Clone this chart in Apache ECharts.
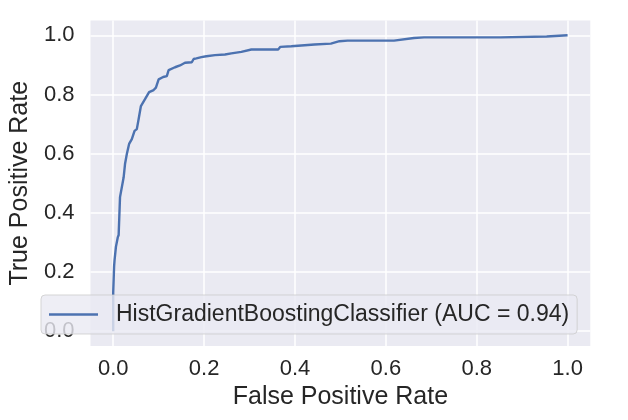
<!DOCTYPE html>
<html>
<head>
<meta charset="utf-8">
<script src="https://cdn.jsdelivr.net/npm/echarts@6/dist/echarts.min.js"></script>
<style>
html,body{margin:0;padding:0;background:#fff;}
#chart{width:628px;height:420px;}
</style>
</head>
<body>
<div id="chart"></div>
<script>
// ROC curve data
const fpr = [0, 0, 0.002, 0.003, 0.006, 0.010, 0.012, 0.015, 0.018, 0.023,
  0.026, 0.030, 0.035, 0.041, 0.047, 0.052, 0.056, 0.059, 0.061, 0.070, 0.079,
  0.089, 0.094, 0.097, 0.100, 0.110, 0.118, 0.122, 0.125, 0.136, 0.147,
  0.158, 0.173, 0.177, 0.183, 0.194, 0.205, 0.224, 0.246, 0.260, 0.282,
  0.304, 0.363, 0.368, 0.392, 0.443, 0.479, 0.498, 0.516, 0.618, 0.622,
  0.662, 0.684, 0.852, 0.856, 0.954, 0.958, 1.0];
const tpr = [0, 0.13, 0.22, 0.24, 0.285, 0.317, 0.325, 0.453, 0.459, 0.52,
  0.565, 0.599, 0.633, 0.649, 0.677, 0.683, 0.717, 0.722, 0.761, 0.784, 0.808,
  0.815, 0.823, 0.825, 0.851, 0.859, 0.862, 0.882, 0.885, 0.892, 0.898,
  0.907, 0.909, 0.920, 0.922, 0.926, 0.929, 0.933, 0.935, 0.939, 0.944,
  0.952, 0.952, 0.961, 0.963, 0.969, 0.972, 0.980, 0.982, 0.982, 0.988,
  0.991, 0.993, 0.993, 0.996, 0.996, 1.0, 1.0];
const xTicks = [0.0, 0.2, 0.4, 0.6, 0.8, 1.0];
const yTicks = [0.0, 0.2, 0.4, 0.6, 0.8, 1.0];
const seriesName = 'HistGradientBoostingClassifier (AUC = 0.94)';
const xTitle = 'False Positive Rate';
const yTitle = 'True Positive Rate';

const FONT = '"Liberation Sans", Arial, Helvetica, sans-serif';
const TXT = '#262626';
const chart = echarts.init(document.getElementById('chart'), null, {renderer: 'canvas'});
const points = fpr.map((x, i) => [x, tpr[i]]);

chart.setOption({
  animation: false,
  backgroundColor: '#ffffff',
  textStyle: {fontFamily: FONT},
  grid: {
    left: 88.5, right: 37.7, top: 20.5, height: 325.5,
    show: true, backgroundColor: '#EAEAF2', borderWidth: 0
  },
  legend: {
    show: true,
    left: 41, top: 295,
    z: 10,
    selectedMode: false,
    padding: [7, 8, 7, 8],
    backgroundColor: 'rgba(234,234,242,0.8)',
    borderColor: 'rgba(204,204,204,0.8)',
    borderWidth: 1,
    borderRadius: 4,
    icon: 'rect',
    itemWidth: 49,
    itemHeight: 2.5,
    textStyle: {fontSize: 23, color: TXT, fontFamily: FONT, lineHeight: 25, padding: [0, 0, 0, 13]},
    data: [seriesName]
  },
  xAxis: {
    type: 'value',
    min: -0.05, max: 1.05,
    name: xTitle,
    nameLocation: 'middle',
    nameGap: 39,
    nameTextStyle: {fontSize: 25, color: TXT, fontFamily: FONT},
    axisLine: {show: false},
    axisTick: {show: false, customValues: xTicks},
    axisLabel: {
      customValues: xTicks,
      fontSize: 22, color: TXT, fontFamily: FONT, margin: 12,
      formatter: v => v.toFixed(1)
    },
    splitLine: {show: true, lineStyle: {color: '#ffffff', width: 1.5}}
  },
  yAxis: {
    type: 'value',
    min: -0.05, max: 1.05,
    name: yTitle,
    nameLocation: 'middle',
    nameGap: 57,
    nameTextStyle: {fontSize: 25, color: TXT, fontFamily: FONT},
    axisLine: {show: false},
    axisTick: {show: false, customValues: yTicks},
    axisLabel: {
      customValues: yTicks,
      fontSize: 22, color: TXT, fontFamily: FONT, margin: 16,
      formatter: v => v.toFixed(1)
    },
    splitLine: {show: true, lineStyle: {color: '#ffffff', width: 1.5}}
  },
  series: [{
    name: seriesName,
    type: 'line',
    data: points,
    showSymbol: false,
    symbol: 'none',
    clip: true,
    z: 2,
    lineStyle: {color: '#4C72B0', width: 2.4},
    itemStyle: {color: '#4C72B0'}
  }]
});
</script>
</body>
</html>
